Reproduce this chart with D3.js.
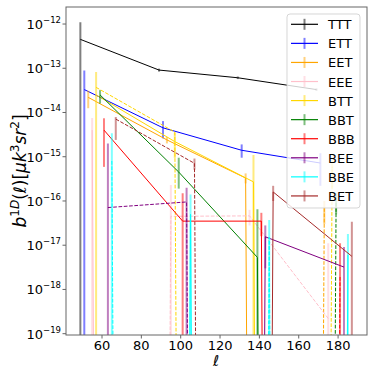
<html>
<head>
<style>
  body { margin: 0; background: #fff; }
  text { font-family: "DejaVu Sans", sans-serif; fill: #000; }
</style>
</head>
<body>
<svg id="chart" width="374" height="374"></svg>
<script src="https://d3js.org/d3.v7.min.js"></script>
<script>
// series names and matplotlib colours
const labels = ["TTT", "ETT", "EET", "EEE", "BTT", "BBT", "BBB", "BEE", "BBE", "BET"];
const colors = ["black", "blue", "orange", "pink", "gold", "green", "red", "purple", "cyan", "brown"];

// multipole of each point (bins shifted a little per series)
const ells = [
  [49, 89, 129, 169], [51, 91, 131, 171], [53, 93, 133, 173], [55, 95, 135, 175], [57, 97, 137, 177],
  [59, 99, 139, 179], [61, 101, 141, 181], [63, 103, 143, 183], [65, 105, 145, 185], [67, 107, 147, 187]
];
// solid curves (0 = not positive, the line drops off the log axis)
const solidVals = [
  [4.5e-13, 9.1e-14, 6.1e-14, 3.3e-14],
  [3.3e-14, 4.5e-15, 1.4e-15, 7.2e-16],
  [2.2e-14, 2.4e-15, 3.3e-16, 0],
  [4e-15, 0, 0, 0],
  [2.5e-14, 2.2e-15, 2.7e-16, 0],
  [2.5e-14, 4.5e-16, 5.3e-18, 0],
  [4e-15, 3.5e-17, 3.5e-17, 0],
  [0, 0, 1.55e-17, 3.2e-18],
  [0, 5e-17, 0, 6e-18],
  [0, 0, 1.6e-16, 5.6e-18]
];
// dashed curves
const dashVals = [
  [0, 0, 0, 0],
  [0, 0, 0, 0],
  [0, 0, 0, 7e-17],
  [0, 4.5e-17, 4.6e-17, 2.2e-19],
  [3.7e-14, 3.6e-15, 0, 6e-16],
  [0, 0, 0, 1e-16],
  [0, 0, 0, 2e-18],
  [7.1e-17, 9.5e-17, 0, 0],
  [8e-16, 0, 1.5e-17, 0],
  [7.1e-15, 7.1e-16, 0, 0]
];
// error bar ends (0 = runs off the bottom)
const errLo = [
  [0, 8.4e-14, 5.7e-14, 3.1e-14],
  [0, 2.6e-15, 9.5e-16, 2.2e-16],
  [1.25e-14, 2e-15, 2.5e-16, 3e-17],
  [0, 0, 2.8e-17, 0],
  [0, 9.3e-16, 0, 2e-16],
  [1.6e-14, 1.9e-16, 0, 5e-17],
  [5.9e-16, 0, 1.6e-17, 0],
  [0, 0, 3e-18, 0],
  [0, 0, 0, 0],
  [2.4e-15, 5.1e-16, 1e-16, 0]
];
const errHi = [
  [1.1e-12, 9.8e-14, 6.5e-14, 3.5e-14],
  [8.9e-14, 6.4e-15, 1.9e-15, 1.2e-15],
  [3.1e-14, 2.8e-15, 4.2e-16, 1e-16],
  [7.5e-15, 2.3e-16, 6.3e-17, 1.1e-17],
  [8.2e-14, 3.5e-15, 1.1e-15, 8.3e-16],
  [3.2e-14, 9.5e-16, 6.5e-17, 1.5e-16],
  [7.4e-15, 1.5e-16, 5.4e-17, 1.1e-17],
  [2e-15, 2e-16, 2.8e-17, 9.1e-18],
  [3.4e-15, 1.4e-16, 3.7e-17, 1.8e-17],
  [7.9e-15, 9.1e-16, 2.2e-16, 3.4e-17]
];

const xTicks = [60, 80, 100, 120, 140, 160, 180];
const yExps = [-19, -18, -17, -16, -15, -14, -13, -12];

const pLeft = 66, pRight = 367, pTop = 7, pBottom = 335;
const CLIP = 1e-300; // matplotlib sends non-positive values far below the axis

let svg = d3.select("#chart");

let x = d3.scaleLinear().domain([41.7, 194.7]).range([pLeft, pRight]);
let y = d3.scaleLog().domain([Math.pow(10, -19.03), Math.pow(10, -11.615)]).range([pBottom, pTop]);

svg.append("clipPath").attr("id", "plotclip")
  .append("rect").attr("x", pLeft).attr("y", pTop).attr("width", pRight - pLeft).attr("height", pBottom - pTop);

let plot = svg.append("g").attr("clip-path", "url(#plotclip)");

let line = d3.line()
  .x(d => x(d[0]))
  .y(d => y(d[1] > 0 ? d[1] : CLIP));

labels.forEach((name, i) => {
  let c = colors[i];
  let solid = ells[i].map((l, k) => [l, solidVals[i][k]]);
  let dashed = ells[i].map((l, k) => [l, dashVals[i][k]]);

  if (solidVals[i].some(v => v > 0)) {
    plot.append("path").datum(solid)
      .attr("d", line).attr("fill", "none")
      .attr("stroke", c).attr("stroke-width", 1);
  }
  // error bars
  ells[i].forEach((l, k) => {
    plot.append("line")
      .attr("x1", x(l)).attr("x2", x(l))
      .attr("y1", y(errLo[i][k] > 0 ? errLo[i][k] : CLIP))
      .attr("y2", y(errHi[i][k]))
      .attr("stroke", c).attr("stroke-width", 2).attr("stroke-opacity", 0.5);
  });
  if (dashVals[i].some(v => v > 0)) {
    plot.append("path").datum(dashed)
      .attr("d", line).attr("fill", "none")
      .attr("stroke", c).attr("stroke-width", 1)
      .attr("stroke-dasharray", "3.7,1.6");
  }
});

// axes frame
svg.append("rect")
  .attr("x", pLeft).attr("y", pTop).attr("width", pRight - pLeft).attr("height", pBottom - pTop)
  .attr("fill", "none").attr("stroke", "#666").attr("stroke-width", 1);

// x ticks
xTicks.forEach(t => {
  svg.append("line").attr("x1", x(t)).attr("x2", x(t)).attr("y1", pBottom).attr("y2", pBottom + 3.5)
    .attr("stroke", "#666");
  svg.append("text").attr("x", x(t)).attr("y", 350).attr("text-anchor", "middle")
    .style("font-size", "13px").text(t);
});

// y ticks
yExps.forEach(e => {
  let yy = y(Math.pow(10, e));
  svg.append("line").attr("x1", pLeft - 3.5).attr("x2", pLeft).attr("y1", yy).attr("y2", yy)
    .attr("stroke", "#666");
  let t = svg.append("text").attr("x", 61).attr("y", yy + 5).attr("text-anchor", "end")
    .style("font-size", "13px");
  t.append("tspan").text("10");
  t.append("tspan").attr("dy", -6).style("font-size", "8.5px").text("\u2212" + (-e));
});

// axis labels
svg.append("text").attr("x", 216).attr("y", 366).attr("text-anchor", "middle")
  .style("font-size", "15px").style("font-style", "italic").text("\u2113");

let yl = svg.append("text")
  .attr("transform", "translate(26," + ((pTop + pBottom) / 2) + ") rotate(-90)")
  .attr("text-anchor", "middle").style("font-size", "17px");
yl.append("tspan").style("font-style", "italic").text("b");
yl.append("tspan").attr("dy", -7).style("font-size", "12px").text("1");
yl.append("tspan").style("font-size", "12px").style("font-style", "italic").text("D");
yl.append("tspan").attr("dy", 7).text("(");
yl.append("tspan").style("font-style", "italic").text("\u2113");
yl.append("tspan").text(")[");
yl.append("tspan").style("font-style", "italic").text("\u03bck");
yl.append("tspan").attr("dy", -7).style("font-size", "12px").text("3");
yl.append("tspan").attr("dy", 7).style("font-style", "italic").text("sr");
yl.append("tspan").attr("dy", -7).style("font-size", "12px").text("2");
yl.append("tspan").attr("dy", 7).text("]");

// legend
let lg = svg.append("g");
lg.append("rect").attr("x", 287).attr("y", 14).attr("width", 73).attr("height", 194).attr("rx", 3)
  .attr("fill", "white").attr("fill-opacity", 0.8).attr("stroke", "#ccc").attr("stroke-opacity", 0.8);
labels.forEach((name, i) => {
  let yy = 24.3 + i * 19.07;
  lg.append("line").attr("x1", 291).attr("x2", 318).attr("y1", yy).attr("y2", yy)
    .attr("stroke", colors[i]).attr("stroke-width", 1.2);
  lg.append("line").attr("x1", 304.5).attr("x2", 304.5).attr("y1", yy - 5.5).attr("y2", yy + 5.5)
    .attr("stroke", colors[i]).attr("stroke-width", 2).attr("stroke-opacity", 0.5);
  lg.append("text").attr("x", 328).attr("y", yy + 5).style("font-size", "13px").text(name);
});
</script>
</body>
</html>
